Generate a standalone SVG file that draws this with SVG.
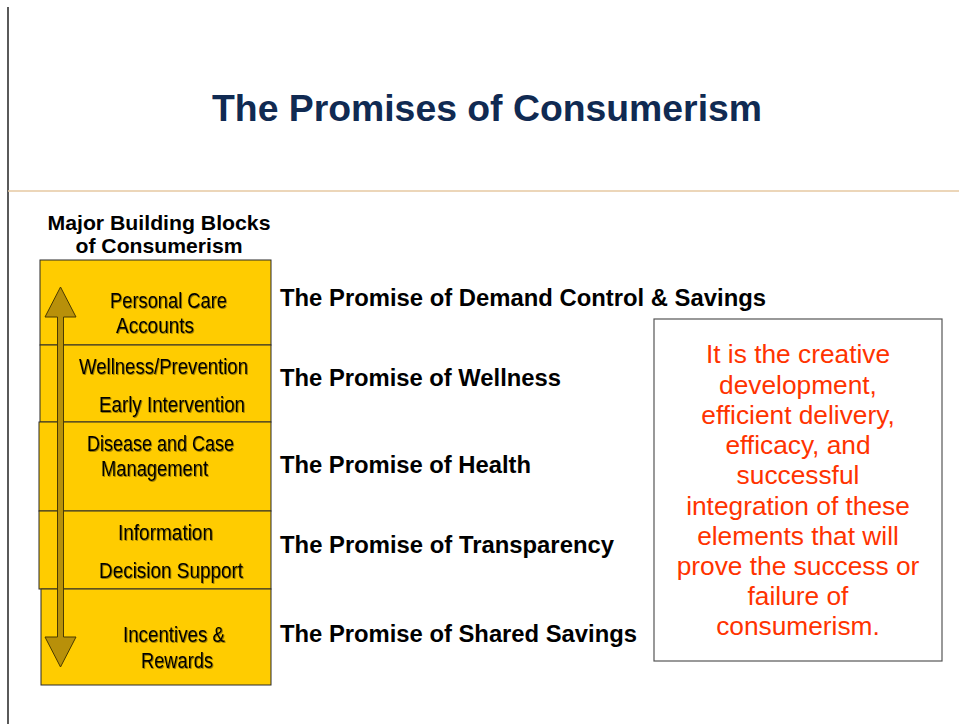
<svg xmlns="http://www.w3.org/2000/svg" width="959" height="724" viewBox="0 0 959 724">
  <style>
    .title { font-family: "Liberation Sans", Arial, sans-serif; font-weight: bold; font-size: 37px; fill: #102a52; }
    .head { font-family: "Liberation Sans", Arial, sans-serif; font-weight: bold; font-size: 20.5px; fill: #000; }
    .block { fill: #ffcc00; stroke: #2b2b2b; stroke-width: 1; }
    .blabel { font-family: "Liberation Sans Narrow", "Arial Narrow", "Liberation Sans", sans-serif; font-stretch: condensed; font-size: 22.5px; fill: #000; filter: url(#soft); }
    .promise { font-family: "Liberation Sans", Arial, sans-serif; font-weight: bold; font-size: 23.5px; fill: #000; }
    .note { font-family: "Liberation Sans", Arial, sans-serif; font-size: 26.3px; fill: #ff3300; text-anchor: middle; }
  </style>
  <defs>
    <filter id="soft" x="-5%" y="-20%" width="110%" height="140%">
      <feDropShadow dx="0.8" dy="0.8" stdDeviation="0.3" flood-color="#4a3a00" flood-opacity="0.7"/>
    </filter>
  </defs>

  <rect x="0" y="0" width="959" height="724" fill="#ffffff"/>

  <!-- page frame rules -->
  <line x1="8" y1="7" x2="8" y2="724" stroke="#000" stroke-width="1.3"/>
  <line x1="8" y1="191" x2="959" y2="191" stroke="#e6c9a2" stroke-width="1.5"/>

  <text class="title" x="487" y="121" text-anchor="middle" textLength="550" lengthAdjust="spacingAndGlyphs">The Promises of Consumerism</text>

  <g id="column-heading">
    <text class="head" x="159" y="230" text-anchor="middle" textLength="223" lengthAdjust="spacingAndGlyphs">Major Building Blocks</text>
    <text class="head" x="159" y="253" text-anchor="middle" textLength="167" lengthAdjust="spacingAndGlyphs">of Consumerism</text>
  </g>

  <!-- stacked building blocks -->
  <g id="block-accounts">
    <rect class="block" x="40" y="260" width="231" height="85"/>
    <text class="blabel" x="110" y="308" textLength="117" lengthAdjust="spacingAndGlyphs">Personal Care</text>
    <text class="blabel" x="116" y="333" textLength="78" lengthAdjust="spacingAndGlyphs">Accounts</text>
  </g>
  <g id="block-wellness">
    <rect class="block" x="40" y="345" width="231" height="77"/>
    <text class="blabel" x="79" y="374" textLength="169" lengthAdjust="spacingAndGlyphs">Wellness/Prevention</text>
    <text class="blabel" x="99" y="412" textLength="146" lengthAdjust="spacingAndGlyphs">Early Intervention</text>
  </g>
  <g id="block-disease">
    <rect class="block" x="39" y="422" width="232" height="89"/>
    <text class="blabel" x="87" y="451" textLength="147" lengthAdjust="spacingAndGlyphs">Disease and Case</text>
    <text class="blabel" x="101" y="476" textLength="107" lengthAdjust="spacingAndGlyphs">Management</text>
  </g>
  <g id="block-information">
    <rect class="block" x="39" y="511" width="232" height="78"/>
    <text class="blabel" x="118" y="540" textLength="95" lengthAdjust="spacingAndGlyphs">Information</text>
    <text class="blabel" x="99" y="578" textLength="144" lengthAdjust="spacingAndGlyphs">Decision Support</text>
  </g>
  <g id="block-incentives">
    <rect class="block" x="41" y="589" width="230" height="96"/>
    <text class="blabel" x="123" y="642" textLength="102" lengthAdjust="spacingAndGlyphs">Incentives &amp;</text>
    <text class="blabel" x="141" y="668" textLength="72" lengthAdjust="spacingAndGlyphs">Rewards</text>
  </g>

  <!-- double-headed arrow spanning the stack -->
  <g id="connectors">
    <path d="M60.5 287 L76 317 L63.5 317 L63.5 637 L76 637 L60.5 667 L45 637 L57.5 637 L57.5 317 L45 317 Z"
          fill="#b8900a" stroke="#4a3a00" stroke-width="1" stroke-linejoin="miter"/>
  </g>

  <!-- promise labels -->
  <g id="promise-demand">
    <text class="promise" x="280" y="306" textLength="486" lengthAdjust="spacingAndGlyphs">The Promise of Demand Control &amp; Savings</text>
  </g>
  <g id="promise-wellness">
    <text class="promise" x="280" y="386" textLength="281" lengthAdjust="spacingAndGlyphs">The Promise of Wellness</text>
  </g>
  <g id="promise-health">
    <text class="promise" x="280" y="473" textLength="251" lengthAdjust="spacingAndGlyphs">The Promise of Health</text>
  </g>
  <g id="promise-transparency">
    <text class="promise" x="280" y="553" textLength="334" lengthAdjust="spacingAndGlyphs">The Promise of Transparency</text>
  </g>
  <g id="promise-shared">
    <text class="promise" x="280" y="642" textLength="357" lengthAdjust="spacingAndGlyphs">The Promise of Shared Savings</text>
  </g>

  <!-- summary note -->
  <g id="note">
    <rect x="654" y="319" width="288" height="342" fill="#ffffff" stroke="#555" stroke-width="1.2"/>
    <text class="note" x="798" y="363">It is the creative</text>
    <text class="note" x="798" y="393.5">development,</text>
    <text class="note" x="798" y="423.5">efficient delivery,</text>
    <text class="note" x="798" y="454">efficacy, and</text>
    <text class="note" x="798" y="484">successful</text>
    <text class="note" x="798" y="514.5">integration of these</text>
    <text class="note" x="798" y="544.5">elements that will</text>
    <text class="note" x="798" y="575">prove the success or</text>
    <text class="note" x="798" y="605">failure of</text>
    <text class="note" x="798" y="635">consumerism.</text>
  </g>
</svg>
